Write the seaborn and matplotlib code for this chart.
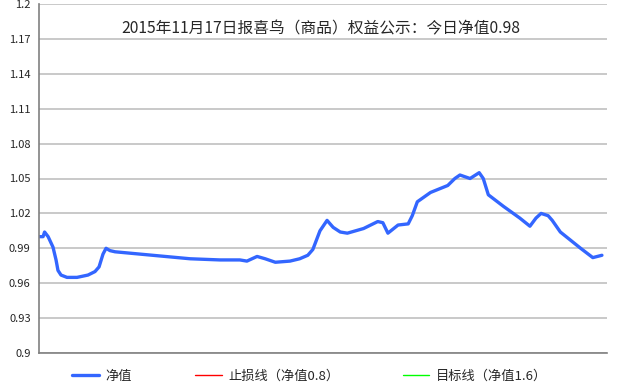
import matplotlib
matplotlib.use("Agg")
import matplotlib.pyplot as plt
import seaborn as sns
import pandas as pd
import numpy as np

# ---- data ----
day_pos = [0, 0.4, 0.55, 0.9, 1.38, 1.68, 1.87, 2.17, 2.76, 3.75, 4.83, 5.52, 5.92,
           6.31, 6.61, 7.0, 7.5, 14.9, 17.85, 19.8, 20.5, 21.5, 22.3, 23.3, 24.75,
           25.7, 26.5, 27.0, 27.7, 28.4, 29.0, 29.7, 30.4, 32.0, 33.4, 33.9, 34.4,
           35.4, 36.4, 36.8, 37.3, 38.6, 40.3, 41.0, 41.5, 42.5, 43.4, 43.8, 44.3,
           45.8, 47.4, 48.4, 49.0, 49.5, 50.2, 50.6, 51.4, 53.4, 54.6, 55.5]
net_value = [1.000, 1.000, 1.004, 1.000, 0.991, 0.980, 0.971, 0.967, 0.965, 0.965,
             0.967, 0.970, 0.974, 0.985, 0.990, 0.988, 0.987, 0.981, 0.980, 0.980,
             0.979, 0.983, 0.981, 0.978, 0.979, 0.981, 0.984, 0.989, 1.005, 1.014,
             1.008, 1.004, 1.003, 1.007, 1.013, 1.012, 1.003, 1.010, 1.011, 1.018,
             1.030, 1.038, 1.044, 1.050, 1.053, 1.050, 1.055, 1.050, 1.036, 1.026,
             1.016, 1.009, 1.016, 1.020, 1.018, 1.014, 1.004, 0.990, 0.982, 0.984]
stop_loss = 0.8
target = 1.6
y_ticks = [0.9, 0.93, 0.96, 0.99, 1.02, 1.05, 1.08, 1.11, 1.14, 1.17, 1.2]
y_labels = ["0.9", "0.93", "0.96", "0.99", "1.02", "1.05", "1.08", "1.11", "1.14", "1.17", "1.2"]
n_slots = 56
title = "2015年11月17日报喜鸟（商品）权益公示：今日净值0.98"
labels = ["净值", "止损线（净值0.8）", "目标线（净值1.6）"]

sns.set_style("white")
plt.rcParams['font.family'] = ['Noto Sans CJK SC', 'DejaVu Sans']

fig = plt.figure(figsize=(6.36, 3.87), dpi=100)
ax = fig.add_axes([39/636, 1-353/387, (607-39)/636, (353-4)/387])

df = pd.DataFrame({"x": day_pos, "v": net_value})
sns.lineplot(data=df, x="x", y="v", sort=False, ax=ax, color="#3366ff",
             linewidth=2.4, label=labels[0], solid_joinstyle="round", solid_capstyle="round")
xs = [0, n_slots]
sns.lineplot(x=xs, y=[stop_loss]*2, ax=ax, color="#ff0000", linewidth=1.0, label=labels[1])
sns.lineplot(x=xs, y=[target]*2, ax=ax, color="#00ff00", linewidth=1.0, label=labels[2])

ax.set_xlim(0, n_slots)
ax.set_ylim(0.9, 1.2)
ax.set_yticks(y_ticks)
ax.set_yticklabels(y_labels, fontsize=8)
ax.set_xticks(np.arange(0, n_slots+1, 7))
ax.set_xticks(np.arange(0, n_slots+1, 1), minor=True)
ax.set_xticklabels([])
ax.tick_params(axis='x', which='major', direction='in', length=5, color='#808080', width=1)
ax.tick_params(axis='x', which='minor', direction='in', length=3, color='#808080', width=1)
ax.tick_params(axis='y', which='major', direction='out', length=3, color='#808080', width=1, pad=3)
ax.set_xlabel("")
ax.set_ylabel("")
for s in ["top", "right"]:
    ax.spines[s].set_visible(False)
for s in ["left", "bottom"]:
    ax.spines[s].set_color("#808080")
    ax.spines[s].set_linewidth(1.2)
ax.grid(axis='y', color='#c0c0c0', linewidth=1.2)
ax.set_axisbelow(True)

ax.text(0.496, 0.928, title, transform=ax.transAxes, ha='center', va='center', fontsize=11.3)

ax.get_legend().remove()
h, l = ax.get_legend_handles_labels()
leg = fig.legend(h, l, loc='center', bbox_to_anchor=(0.487, 1-376/387), ncol=3, frameon=False,
                 fontsize=9.5, handlelength=2.0, handletextpad=0.5, columnspacing=4.8)

fig.savefig("out.png", dpi=100)
